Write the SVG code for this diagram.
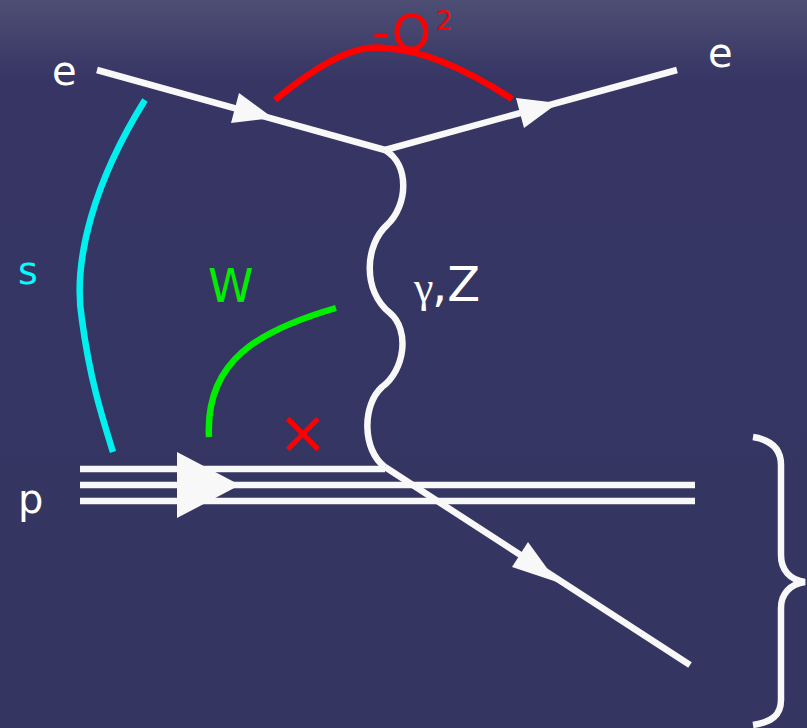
<svg xmlns="http://www.w3.org/2000/svg" width="807" height="728" viewBox="0 0 807 728">
<defs>
<linearGradient id="bg" x1="0" y1="0" x2="0" y2="1">
<stop offset="0" stop-color="#4e4e74"/>
<stop offset="0.11" stop-color="#363564"/>
<stop offset="1" stop-color="#353562"/>
</linearGradient>
<style>
.w{stroke:#f8f8f8;stroke-width:6.5;fill:none}
.head{fill:#f8f8f8}
.lbl{font-family:"DejaVu Sans","Liberation Sans",sans-serif}
</style>
</defs>
<rect width="807" height="728" fill="url(#bg)"/>
<g id="connectors">
<path class="w" d="M97,70 L385,150"/>
<path class="w" d="M385,150 L677,70"/>
<path class="w" d="M80,469 L385,469"/>
<path class="w" d="M80,485 L695,485"/>
<path class="w" d="M80,501 L695,501"/>
<path class="w" d="M385,467 L690,665"/>
<path class="w" d="M385,150 C410,165 408,205 387,225 C365,245 362,290 390,313 C410,330 405,370 382,387 C362,405 362,450 385,467"/>
<polygon class="head" points="273,118 239,93 231,123"/>
<polygon class="head" points="558,103 516,98 524,128"/>
<polygon class="head" points="557,582 528,542 512,567"/>
<polygon class="head" points="240,485 177,452 177,518"/>
</g>
<g id="brace">
<path class="w" d="M753,437 C772,440 781,450 781,465 L781,555 C781,570 790,580 805,582 C790,584 781,594 781,608 L781,700 C781,715 772,722 753,725"/>
</g>
<g id="Q2">
<path d="M275,100 C330,55 360,45 385,48 C420,50 460,65 512,99" stroke="#ff0000" stroke-width="6.5" fill="none"/>
<text class="lbl" x="372" y="50" font-size="50" fill="#ff0000">-Q</text>
<text class="lbl" x="436" y="30" font-size="26" fill="#ff0000">2</text>
</g>
<g id="s">
<path d="M145,100 C95,180 72,260 82,320 C90,380 103,420 113,452" stroke="#00f0f0" stroke-width="6.5" fill="none"/>
<text class="lbl" x="18" y="284" font-size="38" fill="#00ffff">s</text>
</g>
<g id="W">
<path d="M336,308 C260,330 205,360 209,437" stroke="#00ee00" stroke-width="6.5" fill="none"/>
<text class="lbl" x="208" y="302" font-size="46" fill="#00ee00">W</text>
</g>
<g id="x">
<text class="lbl" x="303" y="453" font-size="60" text-anchor="middle" fill="#ff0000">×</text>
</g>
<g id="e-in"><text class="lbl" x="52" y="85" font-size="40" fill="#ffffff">e</text></g>
<g id="e-out"><text class="lbl" x="708" y="67" font-size="40" fill="#ffffff">e</text></g>
<g id="p"><text class="lbl" x="18" y="513" font-size="40" fill="#ffffff">p</text></g>
<g id="gammaZ">
<text x="414" y="302" font-size="44" fill="#ffffff" font-family="Liberation Serif,serif">γ</text>
<text class="lbl" x="432" y="301" font-size="48" fill="#ffffff">,Z</text>
</g>
</svg>
